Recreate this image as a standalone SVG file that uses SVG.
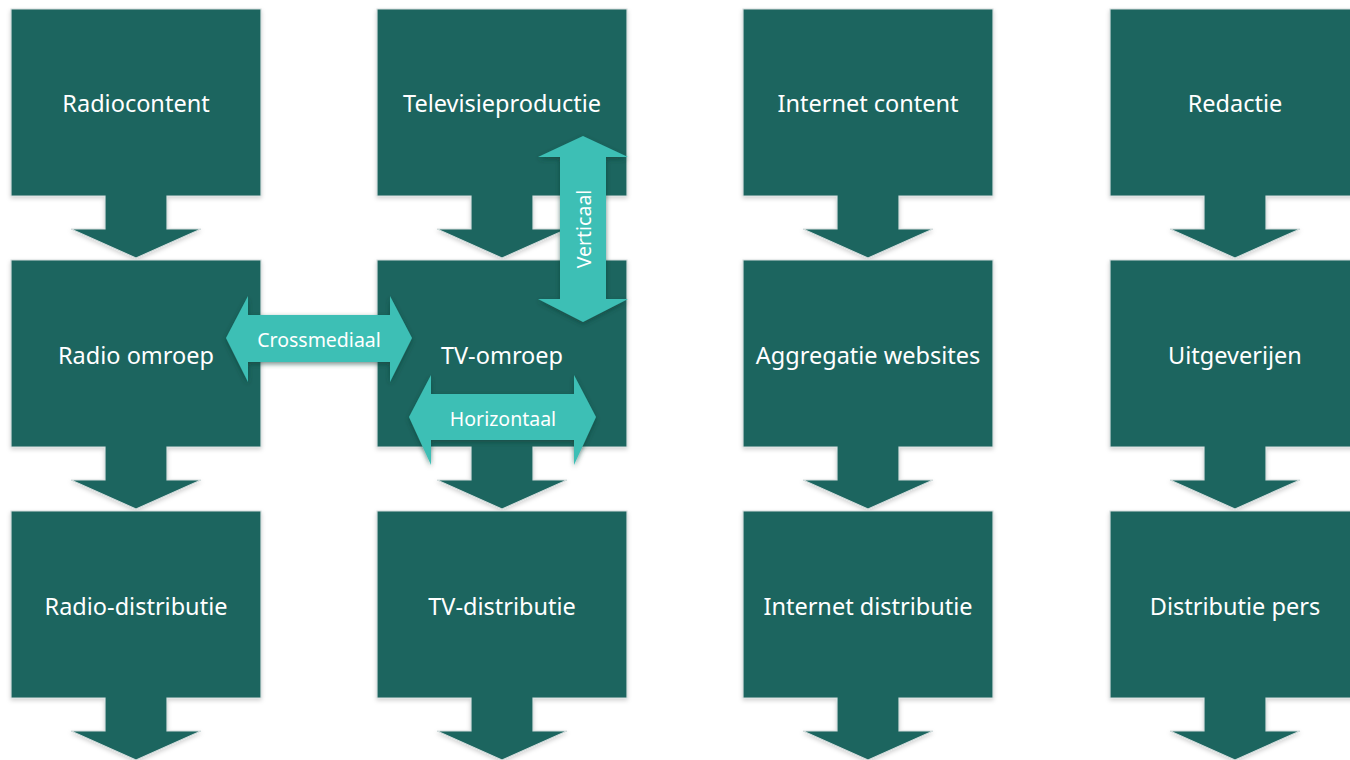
<svg xmlns="http://www.w3.org/2000/svg" width="1350" height="760" viewBox="0 0 1350 760">
<style>
.box{fill:#1b655f;stroke:#d3dcdc;stroke-width:1.2;filter:url(#sh)}
.lbl{font-family:"Noto Sans","Open Sans",sans-serif;font-size:23.5px;fill:#ffffff;text-anchor:middle;dominant-baseline:central}
.dbl{fill:#3dbfb5;filter:url(#sh2)}
.dl{font-family:"Noto Sans","Open Sans",sans-serif;font-size:19.5px;fill:#ffffff;text-anchor:middle;dominant-baseline:central}
</style>
<defs>
<path id="callout" d="M0,0 H250 V187 H156 V220 H190 L125,249 L60,220 H94 V187 H0 Z"/>
<filter id="sh" x="-10%" y="-10%" width="120%" height="120%">
<feDropShadow dx="0" dy="2" stdDeviation="2" flood-color="#000" flood-opacity="0.18"/>
</filter>
<filter id="sh2" x="-20%" y="-20%" width="140%" height="140%">
<feDropShadow dx="0" dy="2" stdDeviation="2.5" flood-color="#0b3a36" flood-opacity="0.6"/>
</filter>
</defs>
<rect width="1350" height="760" fill="#ffffff"/>

<g id="radiocontent"><use href="#callout" class="box" transform="translate(11,9)"/><text class="lbl" x="136" y="103">Radiocontent</text></g>
<g id="televisieproductie"><use href="#callout" class="box" transform="translate(377,9)"/><text class="lbl" x="502" y="103">Televisieproductie</text></g>
<g id="internet-content"><use href="#callout" class="box" transform="translate(743,9)"/><text class="lbl" x="868" y="103">Internet content</text></g>
<g id="redactie"><use href="#callout" class="box" transform="translate(1110,9)"/><text class="lbl" x="1235" y="103">Redactie</text></g>

<g id="radio-omroep"><use href="#callout" class="box" transform="translate(11,260)"/><text class="lbl" x="136" y="355">Radio omroep</text></g>
<g id="tv-omroep"><use href="#callout" class="box" transform="translate(377,260)"/><text class="lbl" x="502" y="355">TV-omroep</text></g>
<g id="aggregatie-websites"><use href="#callout" class="box" transform="translate(743,260)"/><text class="lbl" x="868" y="355">Aggregatie websites</text></g>
<g id="uitgeverijen"><use href="#callout" class="box" transform="translate(1110,260)"/><text class="lbl" x="1235" y="355">Uitgeverijen</text></g>

<g id="radio-distributie"><use href="#callout" class="box" transform="translate(11,511)"/><text class="lbl" x="136" y="606">Radio-distributie</text></g>
<g id="tv-distributie"><use href="#callout" class="box" transform="translate(377,511)"/><text class="lbl" x="502" y="606">TV-distributie</text></g>
<g id="internet-distributie"><use href="#callout" class="box" transform="translate(743,511)"/><text class="lbl" x="868" y="606">Internet distributie</text></g>
<g id="distributie-pers"><use href="#callout" class="box" transform="translate(1110,511)"/><text class="lbl" x="1235" y="606">Distributie pers</text></g>

<g id="connectors">
<g id="verticaal">
<path class="dbl" d="M583,136 L628,157 H606 V299 H628 L583,322 L538,299 H560 V157 H538 Z"/>
<text class="dl" transform="translate(583,229) rotate(-90)">Verticaal</text>
</g>
<g id="crossmediaal">
<path class="dbl" d="M226,338 L248,296 V315 H390 V296 L412,338 L390,382 V362 H248 V382 Z"/>
<text class="dl" x="319" y="339">Crossmediaal</text>
</g>
<g id="horizontaal">
<path class="dbl" d="M409,417 L431,375 V394 H574 V375 L596,417 L574,465 V440 H431 V465 Z"/>
<text class="dl" x="503" y="418">Horizontaal</text>
</g>
</g>
</svg>
